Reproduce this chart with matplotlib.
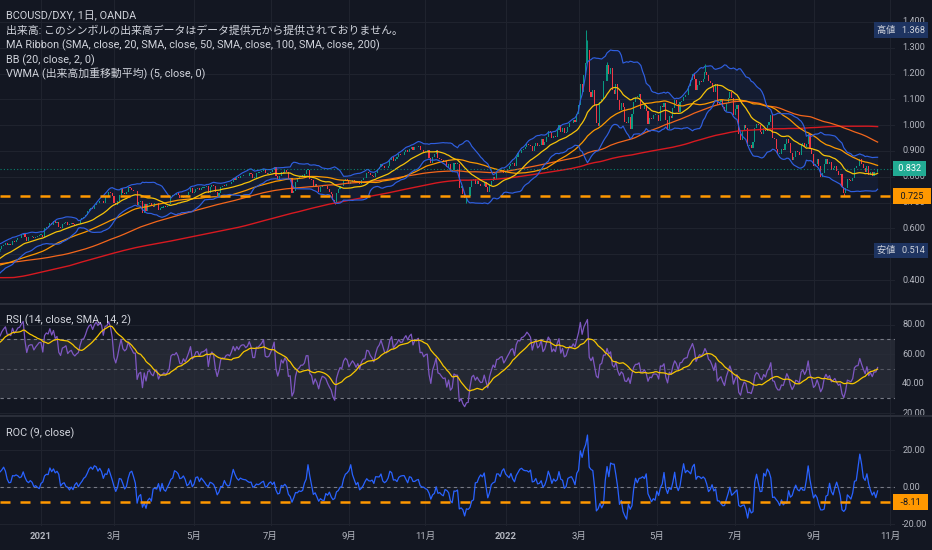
import numpy as np
import pandas as pd
import matplotlib
matplotlib.use("Agg")
import matplotlib.pyplot as plt
from matplotlib.lines import Line2D
from matplotlib.patches import Rectangle
from matplotlib.transforms import blended_transform_factory

FONTS = ["Roboto", "Noto Sans CJK JP", "DejaVu Sans"]
plt.rcParams["font.family"] = FONTS

# sessions before the first visible candle, only used to warm up the long MAs
pre_closes = [
    0.590, 0.565, 0.555, 0.545, 0.525,  0.505, 0.525, 0.530, 0.530, 0.520,
    0.475, 0.365, 0.385, 0.375, 0.340,  0.345, 0.310, 0.290, 0.250, 0.255,
    0.265, 0.262, 0.270, 0.275, 0.262,  0.255, 0.230, 0.235, 0.250, 0.295,
    0.340, 0.330, 0.325, 0.330, 0.320,  0.320, 0.320, 0.295, 0.280, 0.285,
    0.280, 0.260, 0.195, 0.205, 0.215,  0.215, 0.200, 0.205, 0.225, 0.255,
    0.265, 0.275, 0.300, 0.295, 0.295,  0.310, 0.295, 0.290, 0.295, 0.310,
    0.325, 0.345, 0.345, 0.355, 0.360,  0.355, 0.360, 0.365, 0.350, 0.355,
    0.355, 0.385, 0.395, 0.405, 0.410,  0.430, 0.420, 0.425, 0.430, 0.400,
    0.405, 0.395, 0.415, 0.420, 0.425,  0.435, 0.445, 0.430, 0.425, 0.420,
    0.430, 0.430, 0.435, 0.440, 0.445,  0.445, 0.450, 0.445, 0.448, 0.438,
    0.446, 0.442, 0.448, 0.455, 0.449,  0.450, 0.457, 0.466, 0.465, 0.461,
    0.466, 0.472, 0.469, 0.476, 0.464,  0.466, 0.472, 0.476, 0.485, 0.484,
    0.481, 0.480, 0.483, 0.486, 0.483,  0.480, 0.487, 0.496, 0.490, 0.485,
    0.484, 0.480, 0.493, 0.497, 0.491,  0.498, 0.491, 0.490, 0.481, 0.470,
    0.460, 0.450, 0.427, 0.435, 0.428,  0.430, 0.425, 0.428, 0.448, 0.460,
    0.462, 0.443, 0.440, 0.446, 0.445,  0.445, 0.443, 0.436, 0.437, 0.428,
    0.420, 0.436, 0.450, 0.444, 0.456,  0.460, 0.448, 0.455, 0.461, 0.460,
    0.456, 0.456, 0.460, 0.449, 0.450,  0.448, 0.438, 0.441, 0.427, 0.403,
    0.404, 0.407, 0.424, 0.434, 0.442,  0.440, 0.466, 0.472, 0.473, 0.469,
    0.462, 0.472, 0.478, 0.481, 0.485,  0.485, 0.500, 0.515, 0.525, 0.523,
]

# daily closes from 2020-11-27 (business days)
closes = [
    0.521, 0.518,
    # 2020-12
    0.520, 0.530, 0.537, 0.543, 0.537, 0.537, 0.536, 0.553, 0.549,
    0.554, 0.562, 0.564, 0.573, 0.581, 0.565, 0.553, 0.566, 0.568, 0.568,
    0.563, 0.568, 0.572, 0.576,
    # 2021-01
    0.576, 0.568, 0.600, 0.607, 0.606, 0.621, 0.615, 0.628, 0.620, 0.625,
    0.607, 0.603, 0.618, 0.620, 0.623, 0.614, 0.618, 0.620, 0.616, 0.614,
    0.617,
    # 2021-02
    0.619, 0.631, 0.642, 0.643, 0.652, 0.666, 0.676, 0.680, 0.676, 0.690,
    0.700, 0.697, 0.708, 0.706, 0.697, 0.724, 0.726, 0.743, 0.738, 0.727,
    # 2021-03
    0.700, 0.691, 0.705, 0.729, 0.755, 0.739, 0.735, 0.740, 0.762, 0.755,
    0.750, 0.744, 0.744, 0.689, 0.702, 0.705, 0.659, 0.696, 0.668, 0.696,
    0.699, 0.687, 0.682,
    # 2021-04
    0.697, 0.697, 0.671, 0.680, 0.681, 0.686, 0.683, 0.686, 0.694, 0.726,
    0.731, 0.730, 0.736, 0.730, 0.717, 0.716, 0.727, 0.722, 0.731, 0.742,
    0.757, 0.737,
    # 2021-05
    0.742, 0.754, 0.755, 0.748, 0.757, 0.758, 0.760, 0.764, 0.739, 0.761,
    0.770, 0.765, 0.741, 0.725, 0.738, 0.762, 0.766, 0.765, 0.772, 0.774,
    0.772,
    # 2021-06
    0.781, 0.794, 0.788, 0.798, 0.794, 0.802, 0.805, 0.805, 0.802, 0.805,
    0.814, 0.809, 0.797, 0.797, 0.815, 0.815, 0.819, 0.823, 0.830, 0.813,
    0.812, 0.813,
    # 2021-07
    0.819, 0.826, 0.837, 0.805, 0.792, 0.802, 0.820, 0.815, 0.825, 0.820,
    0.793, 0.794, 0.739, 0.746, 0.778, 0.794, 0.798, 0.805, 0.805, 0.810,
    0.828, 0.828,
    # 2021-08
    0.791, 0.786, 0.762, 0.773, 0.762, 0.743, 0.759, 0.769, 0.767, 0.763,
    0.751, 0.741, 0.732, 0.710, 0.697, 0.739, 0.754, 0.766, 0.764, 0.784,
    0.792, 0.788,
    # 2021-09
    0.773, 0.781, 0.788, 0.783, 0.775, 0.783, 0.772, 0.787, 0.794, 0.795,
    0.816, 0.815, 0.808, 0.804, 0.798, 0.815, 0.830, 0.837, 0.851, 0.843,
    0.834, 0.833,
    # 2021-10
    0.843, 0.866, 0.878, 0.861, 0.870, 0.876, 0.887, 0.883, 0.884, 0.895,
    0.903, 0.898, 0.909, 0.915, 0.902, 0.914, 0.916, 0.920, 0.902, 0.903,
    0.897,
    # 2021-11
    0.901, 0.902, 0.872, 0.854, 0.877, 0.888, 0.903, 0.872, 0.870, 0.864,
    0.859, 0.860, 0.838, 0.850, 0.822, 0.826, 0.853, 0.850, 0.850, 0.757,
    0.763, 0.735,
    # 2021-12
    0.717, 0.725, 0.726, 0.759, 0.786, 0.791, 0.774, 0.782, 0.772, 0.764,
    0.765, 0.781, 0.761, 0.740, 0.767, 0.784, 0.800, 0.793, 0.818, 0.819,
    0.825, 0.827, 0.813,
    # 2022-01
    0.821, 0.831, 0.840, 0.851, 0.854, 0.842, 0.876, 0.892, 0.891, 0.904,
    0.907, 0.914, 0.926, 0.923, 0.919, 0.900, 0.919, 0.932, 0.919, 0.925,
    0.945,
    # 2022-02
    0.925, 0.933, 0.955, 0.977, 0.972, 0.950, 0.959, 0.954, 0.983, 1.002,
    0.972, 0.990, 0.970, 0.974, 0.994, 1.009, 1.007, 1.020, 1.014, 1.044,
    # 2022-03
    1.080, 1.160, 1.130, 1.196, 1.240, 1.290, 1.130, 1.110, 1.137, 1.080,
    1.010, 0.997, 1.090, 1.100, 1.170, 1.170, 1.233, 1.200, 1.220, 1.135,
    1.120, 1.160, 1.097,
    # 2022-04
    1.060, 1.085, 1.070, 1.013, 1.008, 1.030, 0.985, 1.043, 1.089, 1.110,
    1.110, 1.120, 1.062, 1.064, 1.077, 1.055, 1.005, 1.026, 1.022, 1.040,
    1.040,
    # 2022-05
    1.038, 1.015, 1.074, 1.072, 1.084, 1.020, 0.986, 1.036, 1.026, 1.066,
    1.096, 1.082, 1.051, 1.090, 1.092, 1.110, 1.116, 1.118, 1.153, 1.174,
    1.200, 1.180,
    # 2022-06
    1.135, 1.155, 1.171, 1.167, 1.179, 1.205, 1.193, 1.170, 1.164, 1.149,
    1.130, 1.159, 1.080, 1.090, 1.097, 1.072, 1.053, 1.085, 1.107, 1.129,
    1.107, 1.041,
    # 2022-07
    1.062, 1.080, 0.965, 0.941, 0.977, 1.000, 0.990, 0.921, 0.922, 0.913,
    0.936, 0.990, 1.006, 0.999, 0.975, 0.967, 0.989, 0.976, 1.002, 1.013,
    1.039,
    # 2022-08
    0.949, 0.945, 0.909, 0.890, 0.890, 0.908, 0.905, 0.926, 0.948, 0.930,
    0.893, 0.867, 0.878, 0.899, 0.895, 0.886, 0.923, 0.932, 0.914, 0.928,
    0.966, 0.913, 0.888,
    # 2022-09
    0.842, 0.849, 0.870, 0.842, 0.801, 0.813, 0.851, 0.868, 0.849, 0.859,
    0.828, 0.833, 0.840, 0.822, 0.808, 0.812, 0.761, 0.737, 0.756, 0.793,
    0.789, 0.785,
    # 2022-10
    0.795, 0.833, 0.840, 0.841, 0.868, 0.850, 0.833, 0.817, 0.841, 0.808,
    0.818, 0.803, 0.818, 0.818, 0.832,
]
first_day = "2020-11-27"

# the few long wicks that stand out in the picture (index -> price)
wick_hi = {331: 1.368, 332: 1.330, 343: 1.245, 398: 1.236}
wick_lo = {2: 0.514, 190: 0.694, 264: 0.700, 476: 0.727}

support_level = 0.725
roc_level = -8.11

BG = "#131722"
GRID = "#1f232e"
TXT = "#d1d4dc"
AXT = "#b2b5be"
UP = "#089981"
DOWN = "#f23645"
ORANGE = "#ff9800"
BB_BLUE = "#2f5fe0"

W, H = 932, 550
fig = plt.figure(figsize=(W / 100, H / 100), dpi=100, facecolor=BG)


def px_axes(y0, y1):
    return fig.add_axes([0, 1 - y1 / H, 895 / W, (y1 - y0) / H], facecolor=BG)


ax1 = px_axes(0, 303)
ax2 = px_axes(304, 415)
ax3 = px_axes(416, 526)

# indicators
full = pd.Series(pre_closes + closes)
n_pre = len(pre_closes)
sma = {p: full.rolling(p).mean().to_numpy()[n_pre:] for p in (20, 50, 100, 200)}
std20 = full.rolling(20).std(ddof=0).to_numpy()[n_pre:]
bb_up = sma[20] + 2 * std20
bb_lo = sma[20] - 2 * std20
delta = full.diff()
gain = delta.clip(lower=0).ewm(alpha=1 / 14, adjust=False).mean()
loss = (-delta.clip(upper=0)).ewm(alpha=1 / 14, adjust=False).mean()
rsi_full = 100 - 100 / (1 + gain / loss)
rsi = rsi_full.to_numpy()[n_pre:]
rsi_ma = rsi_full.rolling(14).mean().to_numpy()[n_pre:]
roc = (100 * (full / full.shift(9) - 1)).to_numpy()[n_pre:]

c = np.array(closes)
o = np.r_[pre_closes[-1], c[:-1]]
x = np.arange(len(c))
cols = np.where(c >= o, UP, DOWN)

x_lo, x_hi = 3.5 / 1.78, (895 + 3.5) / 1.78

# time axis ticks
dates = pd.bdate_range(first_day, periods=len(c) + 15)
tick_idx, tick_lab = [], []
for i, d in enumerate(dates):
    if i > 0 and d.month == dates[i - 1].month:
        continue
    if d.month % 2 == 1 and i > 0:
        tick_idx.append(i)
        tick_lab.append(str(d.year) if d.month == 1 else f"{d.month}月")

for ax in (ax1, ax2, ax3):
    ax.set_xlim(x_lo, x_hi)
    ax.set_xticks(tick_idx)
    ax.grid(True, color=GRID, lw=0.8)
    ax.set_axisbelow(True)
    for s in ax.spines.values():
        s.set_visible(False)
    ax.tick_params(length=0, labelleft=False, labelbottom=False)

# ---- price panel
ax1.set_ylim(0.311, 1.485)
ax1.set_yticks(np.arange(0.4, 1.45, 0.1))
ax1.fill_between(x, bb_lo, bb_up, color="#2962ff", alpha=0.07, lw=0)
ax1.plot(x, sma[200], color="#d71920", lw=1.0)
ax1.plot(x, sma[100], color="#f3661c", lw=0.9)
ax1.plot(x, sma[50], color="#fb9800", lw=0.9)
ax1.plot(x, sma[20], color="#f6c309", lw=0.9)
ax1.plot(x, bb_up, color=BB_BLUE, lw=0.85)
ax1.plot(x, bb_lo, color=BB_BLUE, lw=0.85)
for i, h in wick_hi.items():
    ax1.vlines(i, max(o[i], c[i]), h, color=cols[i], lw=0.7)
for i, lo in wick_lo.items():
    ax1.vlines(i, lo, min(o[i], c[i]), color=cols[i], lw=0.7)
ax1.bar(x, np.maximum(np.abs(c - o), 0.002), bottom=np.minimum(o, c),
        width=0.62, color=cols, lw=0)
ax1.axhline(c[-1], color=UP, lw=0.8, ls=(0, (1, 2)), alpha=0.8)
ax1.axhline(support_level, color=ORANGE, lw=1.8, ls=(0, (4, 4)))

# ---- RSI panel
ax2.set_ylim(18.8, 94.07)
ax2.set_yticks([20, 40, 60, 80])
ax2.axhspan(30, 70, color="#2a2e39", alpha=0.75, lw=0)
for lvl, a in ((70, 1.0), (50, 0.6), (30, 1.0)):
    ax2.axhline(lvl, color="#787b86", lw=0.8, ls=(0, (3, 3)), alpha=a)
ax2.plot(x, rsi, color="#7e57c2", lw=0.9)
ax2.plot(x, rsi_ma, color="#f7c600", lw=0.9)

# ---- ROC panel
ax3.set_ylim(-21.08, 38.38)
ax3.set_yticks([-20, 0, 20])
ax3.axhline(0, color="#787b86", lw=0.8, ls=(0, (3, 3)))
ax3.plot(x, roc, color="#2962ff", lw=0.9)
ax3.axhline(roc_level, color=ORANGE, lw=1.8, ls=(0, (4, 4)))

ax3.tick_params(labelbottom=True, pad=4, labelsize=6.8, labelcolor=AXT)
ax3.set_xticklabels(tick_lab)
for t in ax3.get_xticklabels():
    if "月" not in t.get_text():
        t.set_fontweight("bold")


vis = slice(int(np.ceil(x_lo)), len(c))
hi_val = max(max(c[vis].max(), o[vis].max()), max(wick_hi.values()))
lo_val = min(min(c[vis].min(), o[vis].min()), min(wick_lo.values()))


# ---- right scale labels (clipped to each panel, hidden under the range tags)
def scale_labels(ax, values, fmt, y0, y1, hidden=()):
    clip = Rectangle((0, 1 - y1 / H), 1, (y1 - y0) / H, transform=fig.transFigure)
    tr = blended_transform_factory(ax.transAxes, ax.transData)
    step = values[1] - values[0]
    for v in values:
        if any(abs(v - h) < 0.15 * step for h in hidden):
            continue
        t = ax.text(1.008, v, fmt.format(v), transform=tr, ha="left",
                    va="center", color=AXT, fontsize=6.6, zorder=1)
        t.set_clip_path(clip)


scale_labels(ax1, np.arange(0.4, 1.45, 0.1), "{:.3f}", 0, 303,
             hidden=(hi_val, lo_val))
scale_labels(ax2, [20, 40, 60, 80], "{:.2f}", 304, 415)
scale_labels(ax3, [-20, 0, 20], "{:.2f}", 416, 526)


def tag(ax, y, text, fc, tc, x=1.0, ha="left", pad=0.35):
    tr = blended_transform_factory(ax.transAxes, ax.transData)
    ax.text(x, y, text, transform=tr, ha=ha, va="center", color=tc,
            fontsize=6.6, clip_on=False, zorder=5,
            bbox=dict(boxstyle=f"square,pad={pad}", fc=fc, ec="none"))


tag(ax1, hi_val, f"高値   {hi_val:.3f}", "#1e3461", TXT, x=1.0335, ha="right")
tag(ax1, lo_val, f"安値   {lo_val:.3f}", "#1e3461", TXT, x=1.0335, ha="right")
tag(ax1, c[-1], f" {c[-1]:.3f} ", "#22ab94", "white", x=1.001)
tag(ax1, support_level, f"  {support_level:.3f}  ", ORANGE, BG, x=1.001)
tag(ax3, roc_level, f"  {roc_level:.2f}  ", ORANGE, BG, x=1.001)

# panel separators
for yp in (303.5, 415.5):
    fig.add_artist(Line2D([0, 1], [1 - yp / H] * 2, transform=fig.transFigure,
                          color="#2a2e39", lw=1.5))

# legends
legend = [
    (16, "BCOUSD/DXY, 1日, OANDA"),
    (31, "出来高: このシンボルの出来高データはデータ提供元から提供されておりません。"),
    (45.5, "MA Ribbon (SMA, close, 20, SMA, close, 50, SMA, close, 100, SMA, close, 200)"),
    (60, "BB (20, close, 2, 0)"),
    (74, "VWMA (出来高加重移動平均) (5, close, 0)"),
    (320, "RSI (14, close, SMA, 14, 2)"),
    (433, "ROC (9, close)"),
]
for yp, s in legend:
    fig.text(6 / W, 1 - yp / H, s, color=TXT, fontsize=7.85, va="center", ha="left")

fig.savefig("out.png", dpi=100, facecolor=BG)
